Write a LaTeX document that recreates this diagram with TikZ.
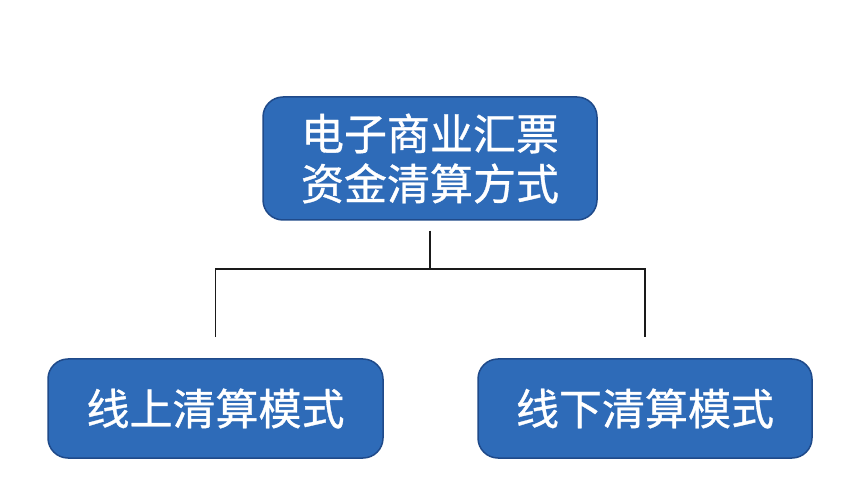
\documentclass[tikz,border=0pt]{standalone}
\usepackage{fontspec}
\newfontfamily\cjk[FakeBold=0.8]{Noto Sans CJK SC}
\definecolor{boxfill}{HTML}{2E6BB8}
\definecolor{boxedge}{HTML}{1F4A8A}
\definecolor{linkcol}{HTML}{1A1A1A}
\tikzset{
  bluebox/.style={draw=boxedge, line width=1.5pt, fill=boxfill, rounded corners=20pt,
    text=white, align=center, inner sep=0pt,
    font=\cjk\fontsize{43}{50}\selectfont},
  link/.style={draw=linkcol, line width=1.5pt}
}
\begin{document}
\begin{tikzpicture}[x=1pt,y=1pt]
\useasboundingbox (0,0) rectangle (860,477);
\fill[white] (0,0) rectangle (860,477);
\node[bluebox, minimum width=334pt, minimum height=123pt] (T) at (430,318.5) {电子商业汇票\\资金清算方式};
\node[bluebox, minimum width=335pt, minimum height=99pt] (L) at (215.5,68.5) {线上清算模式};
\node[bluebox, minimum width=334pt, minimum height=99pt] (R) at (645,68.5) {线下清算模式};
\coordinate (bar) at (0,208);
\draw[link] ([yshift=-10pt]T.south) -- (T.south |- bar);
\draw[link] ([yshift=21pt]L.north) -- (L.north |- bar) -- (R.north |- bar) -- ([yshift=21pt]R.north);
\end{tikzpicture}
\end{document}
